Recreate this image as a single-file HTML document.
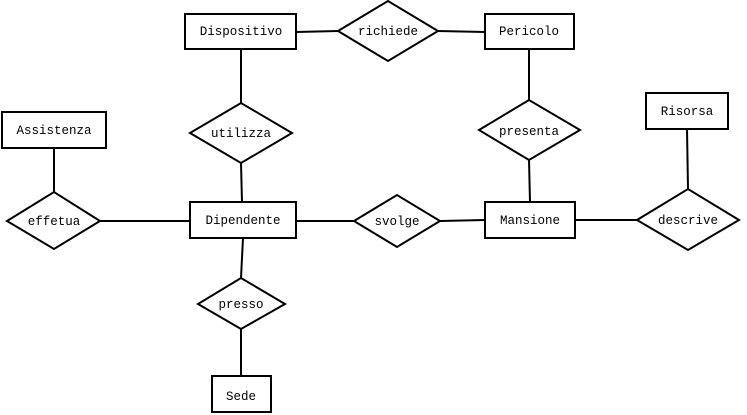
<!DOCTYPE html>
<html><head><meta charset="utf-8"><style>
html,body{margin:0;padding:0;background:#fff;width:747px;height:415px;overflow:hidden}
svg text{font-family:"Liberation Mono",monospace;font-size:12.5px;fill:#000}
</style></head><body>
<svg width="747" height="415" viewBox="0 0 747 415" xmlns="http://www.w3.org/2000/svg">
<g stroke="#000" stroke-width="2" fill="#fff">
<line x1="296" y1="32" x2="338" y2="31"/>
<line x1="438" y1="31" x2="485" y2="32"/>
<line x1="241" y1="49" x2="241" y2="103"/>
<line x1="241" y1="163" x2="242" y2="202"/>
<line x1="243" y1="238" x2="241" y2="278"/>
<line x1="241" y1="329" x2="241" y2="376"/>
<line x1="529" y1="49" x2="529" y2="100"/>
<line x1="529" y1="160" x2="530" y2="202"/>
<line x1="687" y1="129" x2="688" y2="189"/>
<line x1="54" y1="148" x2="54" y2="192"/>
<line x1="100" y1="221" x2="190" y2="221"/>
<line x1="296" y1="221" x2="354" y2="221"/>
<line x1="440" y1="221" x2="485" y2="220"/>
<line x1="575" y1="220" x2="637" y2="220"/>
<rect x="185" y="14" width="111" height="35"/>
<rect x="485" y="14" width="89" height="35"/>
<rect x="2" y="112" width="104" height="36"/>
<rect x="646" y="93" width="82" height="36"/>
<rect x="190" y="202" width="106" height="36"/>
<rect x="485" y="202" width="90" height="36"/>
<rect x="212" y="376" width="59" height="36"/>
<polygon points="338,31 388,1 438,31 388,61"/>
<polygon points="190,133 241,103 292,133 241,163"/>
<polygon points="479,130 529,100 580,130 529,160"/>
<polygon points="7,221 54,192 100,221 54,249"/>
<polygon points="354,221 397,195 440,221 397,247"/>
<polygon points="637,220 688,189 739,220 688,250"/>
<polygon points="198,304 241,278 285,304 241,329"/>
</g>
<g text-anchor="middle" dominant-baseline="central">
<text x="241" y="32">Dispositivo</text>
<text x="388" y="32">richiede</text>
<text x="529" y="32">Pericolo</text>
<text x="54" y="131">Assistenza</text>
<text x="241" y="134">utilizza</text>
<text x="529" y="132">presenta</text>
<text x="687" y="112">Risorsa</text>
<text x="54" y="222">effetua</text>
<text x="243" y="221">Dipendente</text>
<text x="397" y="222">svolge</text>
<text x="530" y="221">Mansione</text>
<text x="688" y="221">descrive</text>
<text x="241" y="305">presso</text>
<text x="241" y="397">Sede</text>
</g>
</svg>
</body></html>
